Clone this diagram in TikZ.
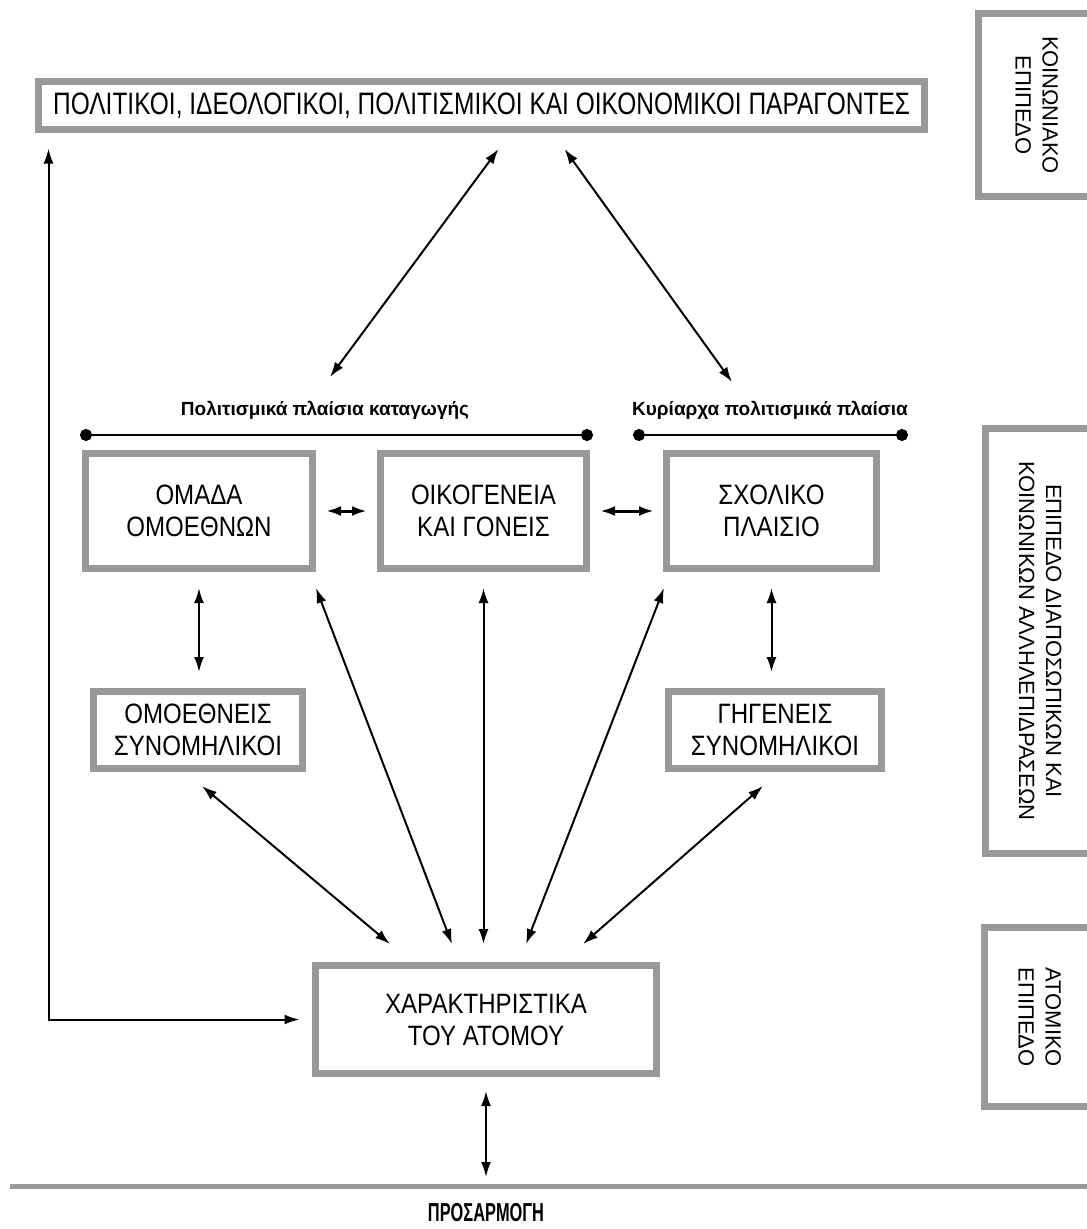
\documentclass[tikz,border=0pt]{standalone}
\usepackage{fontspec}
\setmainfont{Liberation Sans}
\newfontfamily\narrowfont[FakeStretch=0.79]{Liberation Sans}
\newfontfamily\boxfont[FakeStretch=0.86]{Liberation Sans}
\newfontfamily\condensedfont[FakeStretch=0.63]{Liberation Sans}
\usetikzlibrary{arrows.meta, calc}
\definecolor{framegray}{gray}{0.6}
\tikzstyle{factorbox} = [rectangle, draw=framegray, line width=7pt, minimum width=886pt, minimum height=48pt, text centered, font=\narrowfont\fontsize{31}{35}\selectfont]
\tikzstyle{groupbox} = [rectangle, draw=framegray, line width=7pt, minimum height=115pt, align=center, font=\boxfont\fontsize{28}{32}\selectfont]
\tikzstyle{peerbox} = [groupbox, minimum height=77pt]
\tikzstyle{levelbox} = [rectangle, draw=framegray, line width=7pt, rotate=-90, align=center, font=\fontsize{22}{27}\selectfont]
\tikzstyle{framelabel} = [font=\bfseries\fontsize{19}{21}\selectfont]
\tikzstyle{span} = [line width=2.5pt, {Circle[length=12pt]}-{Circle[length=12pt]}]
\tikzstyle{arrow} = [line width=2pt, <->]
\tikzstyle{thickarrow} = [line width=3pt, <->]

\begin{document}
\begin{tikzpicture}[x=1pt, y=-1pt, >={Latex[length=15pt,width=10pt]}]
\useasboundingbox[fill=white] (0,0) rectangle (1087,1229);
\clip (0,0) rectangle (1087,1229);

% Social level
\node (factors) [factorbox] at (481.5,105.5) {ΠΟΛΙΤΙΚΟΙ, ΙΔΕΟΛΟΓΙΚΟΙ, ΠΟΛΙΤΙΣΜΙΚΟΙ ΚΑΙ ΟΙΚΟΝΟΜΙΚΟΙ ΠΑΡΑΓΟΝΤΕΣ};
\node (soclevel) [levelbox, minimum width=183pt, minimum height=117pt] at (1036.75,105) {ΚΟΙΝΩΝΙΑΚΟ\\ΕΠΙΠΕΔΟ};

% Cultural frames
\node (origlabel) [framelabel] at (325,410) {Πολιτισμικά πλαίσια καταγωγής};
\node (domlabel) [framelabel] at (770,410) {Κυρίαρχα πολιτισμικά πλαίσια};
\draw [span] (80,435) -- (593,435);
\draw [span] (633,435) -- (908,435);
\coordinate (origtip) at (330,377);
\coordinate (domtip) at (732,382);
\draw [arrow] ($(factors.south)+(17,16)$) -- (origtip);
\draw [arrow] ($(factors.south)+(83,16)$) -- (domtip);

% Interpersonal level
\node (peers) [groupbox, minimum width=227pt] at (199,511) {ΟΜΑΔΑ\\ΟΜΟΕΘΝΩΝ};
\node (family) [groupbox, minimum width=206pt] at (483.5,511) {ΟΙΚΟΓΕΝΕΙΑ\\ΚΑΙ ΓΟΝΕΙΣ};
\node (school) [groupbox, minimum width=210pt] at (771.5,511) {ΣΧΟΛΙΚΟ\\ΠΛΑΙΣΙΟ};
\draw [thickarrow, shorten <=10pt, shorten >=10pt] (peers) -- (family);
\draw [thickarrow, shorten <=10pt, shorten >=9pt] (family) -- (school);

\node (coethnic) [peerbox, minimum width=209pt] at (198,730) {ΟΜΟΕΘΝΕΙΣ\\ΣΥΝΟΜΗΛΙΚΟΙ};
\node (native) [peerbox, minimum width=213pt] at (775,730) {ΓΗΓΕΝΕΙΣ\\ΣΥΝΟΜΗΛΙΚΟΙ};
\draw [arrow, shorten <=16pt, shorten >=16pt] (peers.south) -- (peers.south |- coethnic.north);
\draw [arrow, shorten <=16pt, shorten >=16pt] (school.south) -- (school.south |- native.north);

\node (interlevel) [levelbox, minimum width=425pt, minimum height=109.5pt] at (1040.25,641) {ΕΠΙΠΕΔΟ ΔΙΑΠΟΣΩΠΙΚΩΝ ΚΑΙ\\ΚΟΙΝΩΝΙΚΩΝ ΑΛΛΗΛΕΠΙΔΡΑΣΕΩΝ};

% Individual level
\node (person) [groupbox, minimum width=341pt, minimum height=108pt] at (486,1019.5) {ΧΑΡΑΚΤΗΡΙΣΤΙΚΑ\\ΤΟΥ ΑΤΟΜΟΥ};
\node (indlevel) [levelbox, minimum width=179pt, minimum height=110.5pt] at (1039.75,1017) {ΑΤΟΜΙΚΟ\\ΕΠΙΠΕΔΟ};

\draw [arrow] ($(coethnic.south)+(4,14)$) -- ($(person.north)+(-96,-18)$);
\draw [arrow] ($(peers.south east)+(0,16)$) -- ($(person.north)+(-34,-18)$);
\draw [arrow, shorten <=16pt, shorten >=18pt] (family.south) -- (family.south |- person.north);
\draw [arrow] ($(school.south west)+(1,16)$) -- ($(person.north)+(40,-18)$);
\draw [arrow] ($(native.south)+(-12,14)$) -- ($(person.north)+(97,-18)$);
\draw [arrow] ($(factors.south west)+(13.5,15.5)$) |- ($(person.west)+(-12.5,0)$);

% Adaptation
\draw [framegray, line width=5pt] (10,1186) -- (1087,1186);
\coordinate (adapt) at (486,1186);
\draw [arrow, shorten <=14pt, shorten >=9pt] (person.south) -- (adapt);
\node (adaptlabel) [font=\condensedfont\bfseries\fontsize{26}{28}\selectfont] at (486,1213) {ΠΡΟΣΑΡΜΟΓΗ};
\end{tikzpicture}
\end{document}
